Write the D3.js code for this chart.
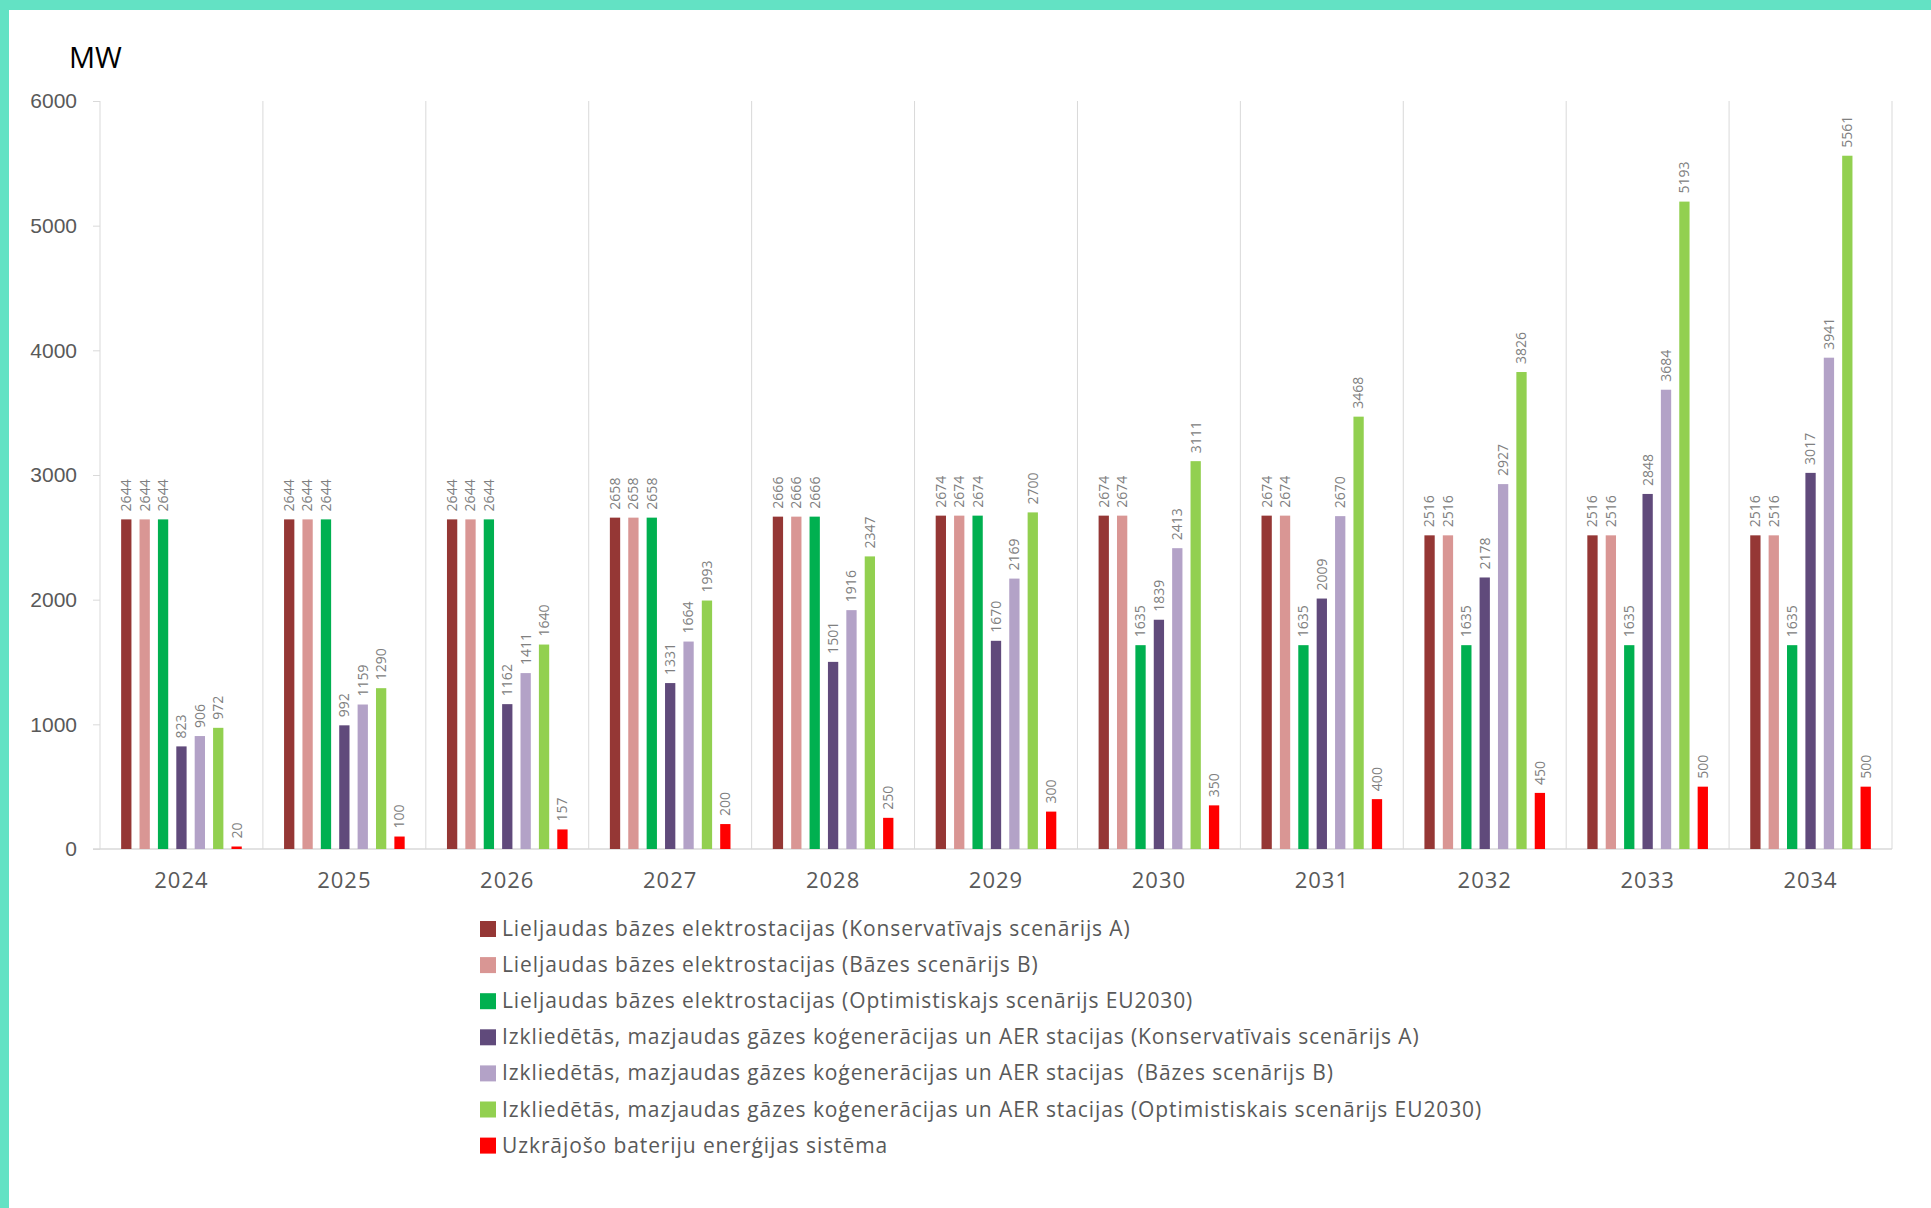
<!DOCTYPE html>
<html>
<head>
<meta charset="utf-8">
<script src="https://cdn.jsdelivr.net/npm/d3@7.9.0/dist/d3.min.js"></script>
<style>
  body { margin: 0; background: #fff; }
  svg { display: block; font-family: "Open Sans", sans-serif; }
</style>
</head>
<body>
<svg id="chart" width="1931" height="1208"></svg>
<script>
// categories and series
const years = ["2024", "2025", "2026", "2027", "2028", "2029", "2030", "2031", "2032", "2033", "2034"];
const seriesNames = [
    "Lieljaudas bāzes elektrostacijas (Konservatīvajs scenārijs A)",
    "Lieljaudas bāzes elektrostacijas (Bāzes scenārijs B)",
    "Lieljaudas bāzes elektrostacijas (Optimistiskajs scenārijs EU2030)",
    "Izkliedētās, mazjaudas gāzes koģenerācijas un AER stacijas (Konservatīvais scenārijs A)",
    "Izkliedētās, mazjaudas gāzes koģenerācijas un AER stacijas  (Bāzes scenārijs B)",
    "Izkliedētās, mazjaudas gāzes koģenerācijas un AER stacijas (Optimistiskais scenārijs EU2030)",
    "Uzkrājošo bateriju enerģijas sistēma"
];
const seriesColors = ["#953735", "#d99694", "#00b050", "#604a7b", "#b3a2c7", "#92d050", "#ff0000"];

const baseA   = [2644, 2644, 2644, 2658, 2666, 2674, 2674, 2674, 2516, 2516, 2516];
const baseB   = [2644, 2644, 2644, 2658, 2666, 2674, 2674, 2674, 2516, 2516, 2516];
const baseEU  = [2644, 2644, 2644, 2658, 2666, 2674, 1635, 1635, 1635, 1635, 1635];
const distA   = [823, 992, 1162, 1331, 1501, 1670, 1839, 2009, 2178, 2848, 3017];
const distB   = [906, 1159, 1411, 1664, 1916, 2169, 2413, 2670, 2927, 3684, 3941];
const distEU  = [972, 1290, 1640, 1993, 2347, 2700, 3111, 3468, 3826, 5193, 5561];
const battery = [20, 100, 157, 200, 250, 300, 350, 400, 450, 500, 500];
const seriesValues = [baseA, baseB, baseEU, distA, distB, distEU, battery];

const yTicks = [0, 1000, 2000, 3000, 4000, 5000, 6000];

const svg = d3.select("#chart");

// teal frame on top and left
svg.append("rect").attr("x", 0).attr("y", 0).attr("width", 1931).attr("height", 10).attr("fill", "#63e2c4");
svg.append("rect").attr("x", 0).attr("y", 0).attr("width", 9).attr("height", 1208).attr("fill", "#63e2c4");

const plot = { left: 100, right: 1892, top: 101, bottom: 849 };

const x0 = d3.scaleBand().domain(years).range([plot.left, plot.right]);
const x1 = d3.scaleBand().domain(d3.range(seriesNames.length))
    .range([0, x0.bandwidth()])
    .paddingInner(0.44)
    .paddingOuter(1.15);
const y = d3.scaleLinear().domain([0, 6000]).range([plot.bottom, plot.top]);

// vertical separators between years
const seps = years.map(d => x0(d)).concat([plot.right]);
svg.append("g").selectAll("line")
    .data(seps)
    .join("line")
    .attr("x1", d => d).attr("x2", d => d)
    .attr("y1", plot.top).attr("y2", plot.bottom)
    .attr("stroke", "#d9d9d9")
    .attr("stroke-width", 1);

// y axis
const yAxis = svg.append("g")
    .attr("transform", `translate(${plot.left},0)`)
    .call(d3.axisLeft(y).tickValues(yTicks).tickSize(7).tickPadding(16).tickFormat(d3.format("d")));
yAxis.select(".domain").remove();
yAxis.selectAll(".tick line").attr("stroke", "#d9d9d9");
yAxis.selectAll(".tick text")
    .attr("fill", "#595959")
    .style("font-size", "21px");

// baseline
svg.append("line")
    .attr("x1", plot.left - 7).attr("x2", plot.right)
    .attr("y1", plot.bottom).attr("y2", plot.bottom)
    .attr("stroke", "#d9d9d9")
    .attr("stroke-width", 1.5);

// year labels
svg.append("g").selectAll("text")
    .data(years)
    .join("text")
    .attr("x", d => x0(d) + x0.bandwidth() / 2)
    .attr("y", 888)
    .attr("text-anchor", "middle")
    .attr("fill", "#595959")
    .style("font-size", "22px")
    .style("letter-spacing", "1px")
    .text(d => d);

// bars + labels
const flat = [];
years.forEach((yr, j) => {
    seriesValues.forEach((vals, i) => {
        flat.push({ year: yr, s: i, value: vals[j] });
    });
});

svg.append("g").selectAll("rect")
    .data(flat)
    .join("rect")
    .attr("x", d => x0(d.year) + x1(d.s))
    .attr("y", d => y(d.value))
    .attr("width", x1.bandwidth())
    .attr("height", d => y(0) - y(d.value))
    .attr("fill", d => seriesColors[d.s]);

svg.append("g").selectAll("text")
    .data(flat)
    .join("text")
    .attr("transform", d => `translate(${x0(d.year) + x1(d.s) + x1.bandwidth() / 2},${y(d.value) - 8}) rotate(-90)`)
    .attr("dy", "0.35em")
    .attr("fill", "#808080")
    .style("font-size", "14px")
    .text(d => d.value);

// unit label
svg.append("text")
    .attr("x", 69).attr("y", 68)
    .attr("fill", "#000")
    .style("font-size", "29px")
    .text("MW");

// legend
const legend = svg.append("g").attr("transform", "translate(480,921)");
const items = legend.selectAll("g")
    .data(seriesNames)
    .join("g")
    .attr("transform", (d, i) => `translate(0,${i * 36.1})`);
items.append("rect")
    .attr("width", 16).attr("height", 16)
    .attr("fill", (d, i) => seriesColors[i]);
items.append("text")
    .attr("x", 22).attr("y", 15)
    .attr("fill", "#595959")
    .style("font-size", "21px")
    .style("letter-spacing", "0.9px")
    .style("white-space", "pre")
    .text(d => d);
</script>
</body>
</html>
